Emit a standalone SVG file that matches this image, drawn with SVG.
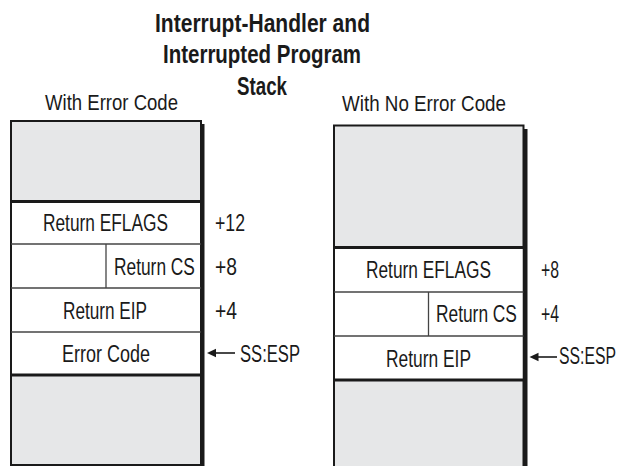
<svg xmlns="http://www.w3.org/2000/svg" width="619" height="466" viewBox="0 0 619 466">
<defs>
<style>
text{font-family:"Liberation Sans",Arial,sans-serif;fill:#1a1a1a;}
.title{font-size:25px;font-weight:bold;}
.hdr{font-size:22.5px;}
.lbl{font-size:23px;}
.shadow{fill:#1a1a1a;}
.stack{fill:#e6e7e8;stroke:#1a1a1a;stroke-width:2;}
.rows{fill:#ffffff;}
.thick{stroke:#1a1a1a;stroke-width:3;}
.thin{stroke:#444;stroke-width:1.3;}
.conn{stroke:#1a1a1a;stroke-width:1.6;fill:none;}
.head{fill:#1a1a1a;}
</style>
</defs>

<g id="title">
<text class="title" x="155" y="32" textLength="215" lengthAdjust="spacingAndGlyphs">Interrupt-Handler and</text>
<text class="title" x="163" y="63" textLength="198" lengthAdjust="spacingAndGlyphs">Interrupted Program</text>
<text class="title" x="237" y="95" textLength="50" lengthAdjust="spacingAndGlyphs">Stack</text>
</g>

<g id="stack-error">
<text class="hdr" x="45" y="110" textLength="133" lengthAdjust="spacingAndGlyphs">With Error Code</text>
<rect class="shadow" x="14" y="124" width="190.5" height="350"/>
<rect class="stack" x="11" y="121" width="190" height="344"/>
<rect class="rows" x="12" y="201.5" width="188" height="173.5"/>
<line class="thick" x1="11" y1="201.5" x2="201" y2="201.5"/>
<line class="thin" x1="11" y1="244" x2="201" y2="244"/>
<line class="thin" x1="106" y1="244" x2="106" y2="288"/>
<line class="thin" x1="11" y1="288" x2="201" y2="288"/>
<line class="thin" x1="11" y1="332" x2="201" y2="332"/>
<line class="thick" x1="11" y1="375" x2="201" y2="375"/>
<text class="lbl" x="43" y="231" textLength="125" lengthAdjust="spacingAndGlyphs">Return EFLAGS</text>
<text class="lbl" transform="translate(114,275) scale(0.754,1)">Return CS</text>
<text class="lbl" x="63" y="318.5" textLength="84" lengthAdjust="spacingAndGlyphs">Return EIP</text>
<text class="lbl" x="62" y="362" textLength="88" lengthAdjust="spacingAndGlyphs">Error Code</text>
<text class="lbl" x="215" y="231" textLength="30" lengthAdjust="spacingAndGlyphs">+12</text>
<text class="lbl" x="215" y="275" textLength="22" lengthAdjust="spacingAndGlyphs">+8</text>
<text class="lbl" x="215" y="318.5" textLength="22" lengthAdjust="spacingAndGlyphs">+4</text>
<text class="lbl" x="240" y="362" textLength="60" lengthAdjust="spacingAndGlyphs">SS:ESP</text>
</g>

<g id="stack-noerror">
<text class="hdr" x="342" y="111" textLength="164" lengthAdjust="spacingAndGlyphs">With No Error Code</text>
<rect class="shadow" x="337" y="129" width="190.5" height="350"/>
<rect class="stack" x="334" y="125.5" width="189.5" height="350"/>
<rect class="rows" x="335" y="247.5" width="187.5" height="132.5"/>
<line class="thick" x1="334" y1="247.5" x2="523.5" y2="247.5"/>
<line class="thin" x1="334" y1="292" x2="523.5" y2="292"/>
<line class="thin" x1="428.5" y1="292" x2="428.5" y2="336"/>
<line class="thin" x1="334" y1="336" x2="523.5" y2="336"/>
<line class="thick" x1="334" y1="380" x2="523.5" y2="380"/>
<text class="lbl" x="366" y="278" textLength="125" lengthAdjust="spacingAndGlyphs">Return EFLAGS</text>
<text class="lbl" transform="translate(436,322) scale(0.754,1)">Return CS</text>
<text class="lbl" x="386" y="366.5" textLength="85" lengthAdjust="spacingAndGlyphs">Return EIP</text>
<text class="lbl" x="541" y="278" textLength="18" lengthAdjust="spacingAndGlyphs">+8</text>
<text class="lbl" x="541" y="322" textLength="18" lengthAdjust="spacingAndGlyphs">+4</text>
<text class="lbl" transform="translate(559,364) scale(0.686,1)">SS:ESP</text>
</g>

<g id="connectors">
<line class="conn" x1="235" y1="353" x2="213" y2="353"/>
<path class="head" d="M207,353 L216,348.8 L216,357.2 z"/>
<line class="conn" x1="557" y1="357" x2="535" y2="357"/>
<path class="head" d="M529.5,357 L538.5,352.8 L538.5,361.2 z"/>
</g>
</svg>
